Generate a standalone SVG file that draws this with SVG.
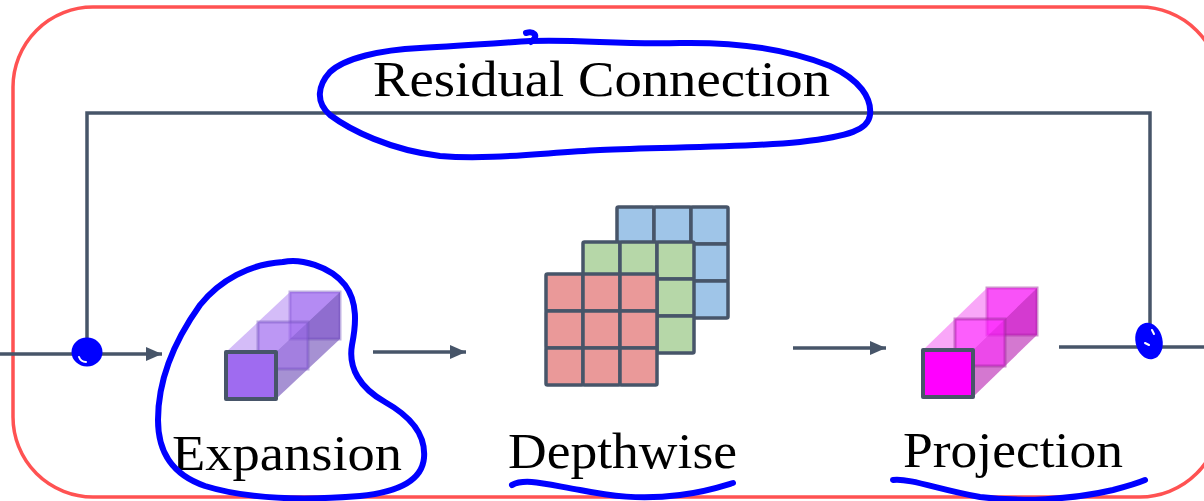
<svg xmlns="http://www.w3.org/2000/svg" xmlns:xlink="http://www.w3.org/1999/xlink" width="1204" height="501" viewBox="0 0 1204 501">
  <style>
    .frame { fill: none; stroke: #FF5252; stroke-width: 3.5; }
    .wire { fill: none; stroke: #475569; stroke-width: 3.5; stroke-linecap: butt; stroke-linejoin: miter; }
    .cell { stroke: #475569; stroke-width: 3.5; stroke-linejoin: round; }
    .label { font-family: "Liberation Serif", "Times New Roman", serif; font-size: 50px; fill: #000; }
    .ink { fill: none; stroke: #0000FF; stroke-width: 6; stroke-linecap: round; stroke-linejoin: round; }
    .inkdot { fill: #0000FF; stroke: #0000FF; stroke-width: 3; }
    .gleam { fill: none; stroke: #FFFFFF; stroke-width: 2; stroke-linecap: round; }
    .edge { stroke: #475569; stroke-width: 4; stroke-linejoin: round; }
  </style>
  <defs>
    <marker id="head" markerUnits="userSpaceOnUse" viewBox="0 0 16 14" refX="16" refY="7" markerWidth="16" markerHeight="14" orient="auto">
      <path d="M0,0 L16,7 L0,14 Z" fill="#475569"/>
    </marker>
    <!-- 3x3 kernel, fill comes from the <use> -->
    <g id="grid3">
      <rect class="cell" x="0" y="0" width="37" height="37" rx="1.5"/>
      <rect class="cell" x="37" y="0" width="37" height="37" rx="1.5"/>
      <rect class="cell" x="74" y="0" width="37" height="37" rx="1.5"/>
      <rect class="cell" x="0" y="37" width="37" height="37" rx="1.5"/>
      <rect class="cell" x="37" y="37" width="37" height="37" rx="1.5"/>
      <rect class="cell" x="74" y="37" width="37" height="37" rx="1.5"/>
      <rect class="cell" x="0" y="74" width="37" height="37" rx="1.5"/>
      <rect class="cell" x="37" y="74" width="37" height="37" rx="1.5"/>
      <rect class="cell" x="74" y="74" width="37" height="37" rx="1.5"/>
    </g>
  </defs>

  <rect width="1204" height="501" fill="#FFFFFF"/>

  <!-- block outline -->
  <rect class="frame" x="13" y="7" width="1207" height="490" rx="80" ry="80"/>

  <!-- connectors -->
  <g id="connectors">
    <path class="wire" d="M87,354 V113 H1150 V347"/>
    <line class="wire" x1="0" y1="354" x2="162" y2="354" marker-end="url(#head)"/>
    <line class="wire" x1="373" y1="352" x2="466" y2="352" marker-end="url(#head)"/>
    <line class="wire" x1="793" y1="348" x2="886" y2="348" marker-end="url(#head)"/>
    <line class="wire" x1="1059" y1="347" x2="1204" y2="347"/>
  </g>

  <g id="residual-label">
    <text class="label" x="373" y="96" textLength="457" lengthAdjust="spacingAndGlyphs">Residual Connection</text>
  </g>

  <!-- expansion: 1x1 column of channels -->
  <g id="expansion">
    <rect x="290" y="292" width="50" height="47" fill="#9F6BF0" fill-opacity="0.6" stroke="#7352BE" stroke-opacity="0.45" stroke-width="3"/>
    <polygon points="276,352 340,292 340,339 276,399" fill="#6B47B5" fill-opacity="0.6"/>
    <polygon points="226,352 276,352 340,292 290,292" fill="#9F6BF0" fill-opacity="0.45"/>
    <rect x="258" y="322" width="50" height="47" fill="#9F6BF0" fill-opacity="0.45" stroke="#7352BE" stroke-opacity="0.45" stroke-width="3"/>
    <rect class="edge" x="226" y="352" width="50" height="47" fill="#9F6BF0"/>
    <text class="label" x="172" y="470" textLength="230" lengthAdjust="spacingAndGlyphs">Expansion</text>
  </g>

  <!-- depthwise: one kernel per channel -->
  <g id="depthwise">
    <use xlink:href="#grid3" href="#grid3" x="617" y="207" fill="#9FC5E8"/>
    <use xlink:href="#grid3" href="#grid3" x="583" y="242" fill="#B6D7A8"/>
    <use xlink:href="#grid3" href="#grid3" x="546" y="274" fill="#EA9999"/>
    <text class="label" x="508" y="468" textLength="229" lengthAdjust="spacingAndGlyphs">Depthwise</text>
  </g>

  <!-- projection: 1x1 column back to fewer channels -->
  <g id="projection">
    <rect x="987" y="288" width="50" height="47" fill="#FF22FF" fill-opacity="0.7" stroke="#A0289E" stroke-opacity="0.5" stroke-width="3"/>
    <polygon points="973,350 1037,288 1037,335 973,397" fill="#B81EB0" fill-opacity="0.6"/>
    <polygon points="923,350 973,350 1037,288 987,288" fill="#F23CEF" fill-opacity="0.45"/>
    <rect x="955" y="319" width="50" height="47" fill="#FF22FF" fill-opacity="0.55" stroke="#A0289E" stroke-opacity="0.5" stroke-width="3"/>
    <rect class="edge" x="923" y="350" width="50" height="47" fill="#FF00FF"/>
    <text class="label" x="903" y="467" textLength="220" lengthAdjust="spacingAndGlyphs">Projection</text>
  </g>

  <!-- pen marks -->
  <g id="annotations">
    <path class="ink" d="M330,72 C345,58 380,50 420,48 C460,46 500,43 530,41 C580,39 620,45 680,43 C740,42 790,50 830,66 C860,80 872,98 870,115 C868,130 850,136 800,142 C740,148 660,147 600,150 C540,153 490,160 440,156 C390,150 350,130 330,115 C315,102 318,85 330,72"/>
    <path class="ink" d="M526,33 C533,31 540,35 531,42"/>
    <path class="ink" d="M283,262 C300,258 330,266 345,285 C358,302 356,325 352,345 C348,368 360,388 385,402 C410,416 426,435 424,458 C422,480 400,492 360,496 C310,500 250,500 205,486 C170,474 158,450 158,420 C158,380 175,340 200,305 C220,280 250,264 283,262"/>
    <path class="ink" d="M512,485 C525,478 545,484 580,490 C610,496 640,500 680,495 C705,492 720,487 733,483"/>
    <path class="ink" d="M893,480 C910,478 940,490 980,497 C1020,502 1070,500 1113,490 C1128,486 1138,483 1145,480"/>
    <ellipse class="inkdot" cx="87" cy="352" rx="14" ry="13"/>
    <path class="gleam" d="M79,357 Q81,362 86,362"/>
    <ellipse class="inkdot" cx="1149" cy="341" rx="12" ry="17" transform="rotate(-12 1149 341)"/>
    <path class="gleam" d="M1152,330 L1154,334"/>
    <path class="gleam" d="M1145,343 L1149,345"/>
  </g>
</svg>
